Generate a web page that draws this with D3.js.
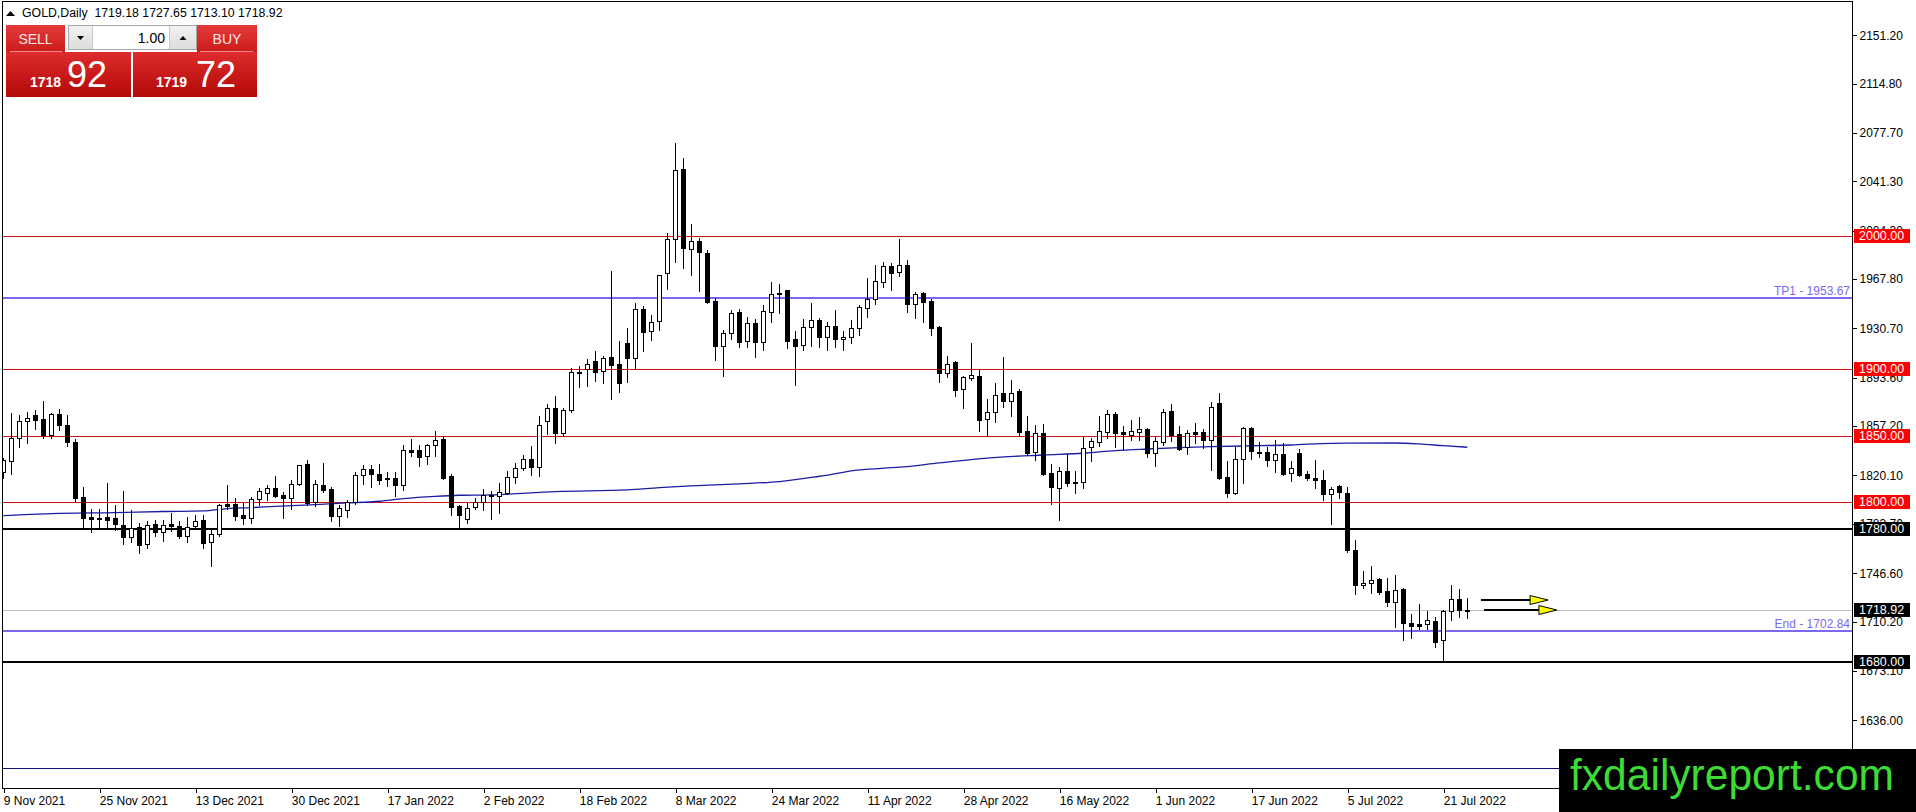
<!DOCTYPE html>
<html>
<head>
<meta charset="utf-8">
<style>
  html, body { margin: 0; padding: 0; background: #fff; }
  svg { display: block; font-family: "Liberation Sans", Arial, sans-serif; }
  .axis text { font-size: 12px; fill: #000; }
  .axis line { stroke: #000; shape-rendering: crispEdges; }
  .axis path { display: none; }
  .wick { stroke: #000; stroke-width: 1; shape-rendering: crispEdges; }
  .body { stroke: #000; stroke-width: 1; shape-rendering: crispEdges; }
  .level { shape-rendering: crispEdges; fill: none; }
</style>
<script src="https://cdn.jsdelivr.net/npm/d3@7/dist/d3.min.js"></script>
</head>
<body>
<svg id="chart" width="1916" height="812"></svg>
<script>
// ---- data ----
const symbol = "GOLD,Daily";
const lastOHLC = [1719.18, 1727.65, 1713.10, 1718.92];
const lotSize = "1.00";
const sellPrice = ["1718", "92"];
const buyPrice = ["1719", "72"];

// one label every 12 daily bars
const dateLabels = ["9 Nov 2021", "25 Nov 2021", "13 Dec 2021", "30 Dec 2021", "17 Jan 2022",
  "2 Feb 2022", "18 Feb 2022", "8 Mar 2022", "24 Mar 2022", "11 Apr 2022", "28 Apr 2022",
  "16 May 2022", "1 Jun 2022", "17 Jun 2022", "5 Jul 2022", "21 Jul 2022"];
const barsPerLabel = 12;

const opens = [1822.6,1830.9,1848.2,1860.9,1865.2,1862.2,1850.6,1866.4,1858.4,1845.2,
  1803.9,1788.9,1788.2,1788.9,1788.2,1783.2,1773.9,1781.4,1768.2,1783.9,
  1777.7,1783.4,1781.9,1774.7,1781.9,1786.4,1770.2,1776.4,1798.9,1798.9,
  1790.2,1788.2,1802.7,1807.2,1810.9,1805.2,1803.4,1813.9,1828.4,1800.2,
  1813.2,1809.7,1789.7,1794.4,1800.2,1820.7,1825.2,1821.4,1818.4,1818.4,
  1812.7,1839.4,1838.9,1834.4,1842.7,1847.2,1819.4,1796.9,1787.7,1796.4,
  1800.2,1805.7,1804.8,1806.8,1819.3,1825.6,1832.4,1826.4,1860.7,1870.8,
  1852.4,1869.0,1897.9,1900.4,1906.4,1898.9,1909.2,1903.9,1919.7,1908.4,
  1945.3,1929.0,1936.0,1972.4,1998.0,2050.7,1990.5,1996.7,1987.5,1951.6,
  1917.7,1927.2,1943.0,1921.1,1934.9,1920.4,1943.0,1957.5,1959.3,1922.4,
  1918.3,1931.7,1936.7,1924.1,1932.2,1922.9,1924.1,1931.2,1946.2,1953.0,
  1965.6,1977.4,1973.1,1978.1,1949.2,1957.3,1951.3,1931.7,1897.2,1905.3,
  1885.2,1893.5,1895.2,1862.3,1867.5,1881.8,1876.3,1883.5,1853.5,1837.5,
  1852.3,1821.8,1810.5,1823.5,1814.3,1815.5,1841.3,1845.0,1853.0,1866.3,
  1852.8,1850.5,1852.5,1855.0,1836.8,1845.5,1868.5,1851.0,1841.3,1852.8,
  1853.0,1846.8,1874.8,1819.3,1806.8,1832.5,1855.8,1838.0,1838.0,1831.8,
  1836.3,1822.0,1837.0,1821.3,1818.3,1817.0,1806.3,1811.8,1807.0,1764.3,
  1738.0,1739.5,1742.0,1733.0,1725.0,1734.5,1708.8,1708.0,1708.0,1710.5,
  1696.3,1718.0,1727.5,1719.18];
const highs = [1833.0,1866.9,1865.2,1868.1,1869.6,1876.4,1866.9,1870.1,1865.2,1847.7,
  1811.4,1795.2,1794.7,1814.7,1798.2,1808.2,1793.9,1784.4,1785.7,1786.9,
  1786.4,1792.2,1785.7,1788.9,1790.7,1790.2,1778.9,1798.9,1813.2,1803.4,
  1799.4,1803.9,1810.7,1813.2,1819.4,1807.7,1816.4,1827.7,1831.4,1816.4,
  1829.4,1811.4,1798.2,1801.4,1822.7,1827.7,1827.7,1828.4,1822.7,1822.7,
  1842.7,1847.2,1842.7,1843.9,1853.2,1849.7,1821.4,1797.7,1799.4,1803.4,
  1810.2,1808.2,1814.3,1823.1,1829.4,1835.6,1841.9,1865.0,1874.0,1879.5,
  1870.8,1900.9,1902.6,1907.7,1913.9,1909.7,1974.2,1921.5,1931.0,1949.8,
  1947.8,1940.5,1970.6,2002.5,2070.3,2059.0,2009.3,1998.7,1990.0,1953.6,
  1929.2,1944.8,1945.5,1939.2,1937.9,1948.0,1965.6,1964.3,1959.8,1929.1,
  1937.9,1949.7,1938.4,1935.4,1944.2,1928.6,1937.4,1948.0,1968.8,1978.1,
  1980.7,1979.9,1997.7,1981.9,1958.0,1958.0,1953.0,1932.9,1910.3,1906.5,
  1895.2,1919.6,1899.5,1877.3,1889.3,1909.0,1891.8,1885.5,1864.8,1858.0,
  1858.8,1828.5,1826.3,1836.0,1823.5,1848.8,1848.5,1864.8,1869.3,1867.5,
  1857.3,1861.8,1863.8,1855.5,1848.8,1869.8,1873.8,1857.5,1854.3,1859.8,
  1855.0,1875.5,1881.8,1830.8,1841.3,1856.8,1856.8,1845.0,1841.8,1846.8,
  1844.5,1831.3,1840.0,1823.8,1832.0,1824.5,1811.3,1813.0,1811.3,1771.8,
  1748.0,1751.8,1743.3,1743.3,1745.0,1735.5,1715.8,1723.3,1718.0,1713.8,
  1718.8,1738.0,1735.0,1727.65];
const lows = [1818.4,1821.4,1841.4,1844.4,1855.2,1848.2,1848.2,1854.4,1842.2,1800.7,
  1780.7,1777.7,1780.9,1780.7,1778.9,1768.4,1770.2,1761.4,1765.2,1774.7,
  1770.9,1778.4,1772.7,1769.7,1780.2,1765.9,1752.2,1774.7,1794.7,1786.9,
  1783.9,1784.4,1798.2,1801.4,1803.9,1788.2,1795.2,1812.7,1797.7,1797.2,
  1807.7,1785.7,1781.9,1788.9,1798.9,1813.4,1811.4,1813.4,1812.2,1804.7,
  1808.9,1834.4,1826.9,1828.4,1834.4,1817.7,1790.2,1780.2,1784.4,1795.2,
  1793.9,1787.7,1791.7,1806.3,1814.8,1824.3,1820.6,1819.8,1851.4,1844.4,
  1849.9,1867.5,1886.6,1887.1,1890.8,1889.6,1877.5,1882.6,1890.1,1900.4,
  1913.4,1921.7,1929.2,1960.6,1980.4,1976.2,1970.6,1958.6,1949.8,1906.6,
  1894.6,1923.0,1917.0,1917.1,1909.5,1914.1,1935.9,1942.2,1915.8,1888.4,
  1914.8,1917.8,1916.6,1914.1,1916.6,1914.1,1919.6,1926.1,1939.2,1949.2,
  1961.8,1959.3,1969.8,1943.0,1938.4,1935.4,1925.4,1890.2,1894.5,1880.2,
  1870.6,1892.0,1853.3,1849.8,1860.5,1871.8,1864.8,1850.5,1835.5,1831.8,
  1820.5,1798.5,1786.3,1812.3,1806.8,1810.5,1831.0,1842.5,1848.5,1841.8,
  1839.8,1846.8,1846.8,1833.8,1827.3,1843.0,1846.3,1839.3,1836.0,1844.3,
  1841.0,1824.3,1817.3,1803.8,1805.8,1814.3,1832.5,1833.8,1827.0,1822.5,
  1820.8,1815.8,1819.5,1817.0,1810.5,1801.3,1783.3,1803.3,1762.5,1731.3,
  1735.8,1731.8,1730.8,1721.8,1706.3,1696.3,1698.0,1704.3,1704.3,1691.3,
  1680.0,1711.3,1713.3,1713.10];
const closes = [1831.4,1848.2,1860.9,1863.4,1861.9,1850.6,1866.4,1858.2,1845.2,1803.2,
  1788.2,1787.7,1787.9,1786.9,1783.9,1773.9,1780.9,1767.7,1782.7,1777.7,
  1783.2,1782.2,1774.7,1781.4,1785.7,1769.4,1775.9,1798.2,1796.9,1789.7,
  1788.2,1802.7,1808.2,1810.9,1804.4,1803.4,1813.9,1827.7,1799.7,1813.9,
  1809.4,1789.7,1795.9,1800.2,1820.7,1825.2,1821.4,1816.4,1817.4,1812.7,
  1839.4,1837.7,1833.9,1842.7,1846.9,1818.2,1796.4,1790.7,1795.9,1800.4,
  1805.7,1804.4,1807.5,1819.3,1825.6,1832.4,1826.4,1858.2,1870.8,1852.4,
  1869.0,1897.6,1898.1,1903.9,1897.9,1908.4,1902.9,1889.6,1908.4,1945.3,
  1928.0,1935.5,1970.6,1998.0,2049.7,1991.2,1996.2,1988.0,1950.3,1917.2,
  1927.2,1942.3,1920.8,1934.9,1920.4,1943.5,1956.8,1956.8,1921.6,1917.8,
  1931.7,1936.7,1924.1,1932.2,1922.9,1924.6,1931.2,1946.7,1953.0,1966.1,
  1977.4,1972.4,1978.1,1949.2,1956.8,1950.5,1931.2,1897.0,1904.0,1884.7,
  1894.0,1896.0,1861.5,1867.5,1880.5,1876.3,1882.5,1853.0,1837.3,1851.8,
  1821.0,1811.3,1823.5,1814.3,1815.5,1841.0,1846.0,1853.5,1866.3,1852.3,
  1851.0,1853.5,1854.8,1836.8,1846.0,1868.0,1850.5,1839.8,1851.8,1851.3,
  1846.8,1871.8,1818.0,1807.0,1832.5,1855.8,1838.3,1836.8,1831.8,1836.3,
  1821.3,1825.5,1820.8,1818.0,1816.8,1806.3,1810.0,1807.5,1763.8,1738.0,
  1739.5,1741.3,1732.5,1725.0,1734.3,1708.8,1707.0,1706.8,1711.3,1695.0,
  1718.0,1726.8,1718.8,1718.92];

// moving average, read at a number of bars
const maBars = [0, 6, 14, 20, 25, 28, 31, 34, 39, 43, 47, 50, 54, 57, 61, 69, 78, 82, 86, 92,
  97, 102, 107, 112, 117, 123, 130, 135, 139, 143, 147, 151, 157, 161, 166, 174, 177, 180, 183];
const maValues = [1789.9, 1791.4, 1792.2, 1793.0, 1793.4, 1795.2, 1795.9, 1796.9, 1798.2, 1799.4,
  1800.7, 1802.7, 1804.4, 1805.2, 1805.5, 1808.0, 1809.3, 1811.0, 1812.3, 1813.8,
  1815.5, 1819.5, 1824.3, 1826.3, 1829.5, 1833.2, 1835.5, 1836.8, 1838.8, 1840.0,
  1841.0, 1841.8, 1842.5, 1843.0, 1844.3, 1844.5, 1843.8, 1842.5, 1841.3];

const priceTicks = [2151.20, 2114.80, 2077.70, 2041.30, 2004.30, 1967.80, 1930.70, 1893.60,
  1857.20, 1820.10, 1783.70, 1746.60, 1710.20, 1673.10, 1636.00];

const redLevels = [2000, 1900, 1850, 1800];
const blackLevels = [1780, 1680];
const targetNames = ["TP1", "End"];
const targetValues = [1953.67, 1702.84];
const bidPrice = 1718.92;
const baseLevel = 1600;

// the two drawn arrows (bar from / to, price)
const arrowFromBars = [184.7, 185.1];
const arrowToBars = [193.1, 194.2];
const arrowPrices = [1726.4, 1718.92];

// ---- layout ----
const plotLeft = 2, plotTop = 2, plotRight = 1852, plotBottom = 788;
const svg = d3.select("#chart");

const x = d3.scaleLinear().domain([0, 1]).range([3.3, 11.3]);
const y = d3.scaleLinear().domain([1680, 2000]).range([661.7, 236.3]);
const py = v => Math.round(y(v)) + 0.5;
const px = i => Math.round(x(i));

const defs = svg.append("defs");
defs.append("clipPath").attr("id", "plot")
  .append("rect").attr("x", plotLeft + 1).attr("y", plotTop + 1)
  .attr("width", plotRight - plotLeft - 1).attr("height", plotBottom - plotTop - 1);

function grad(id, c1, c2) {
  const g = defs.append("linearGradient").attr("id", id)
    .attr("x1", 0).attr("y1", 0).attr("x2", 0).attr("y2", 1);
  g.append("stop").attr("offset", "0%").attr("stop-color", c1);
  g.append("stop").attr("offset", "100%").attr("stop-color", c2);
}
grad("btnTop", "#e43a3a", "#cc1c1c");
grad("btnBig", "#de2c2c", "#b30808");
grad("spin", "#f2f2f2", "#dcdcdc");

const plot = svg.append("g").attr("clip-path", "url(#plot)");

// horizontal levels
plot.append("line").attr("class", "level")
  .attr("x1", plotLeft).attr("x2", plotRight).attr("y1", py(baseLevel)).attr("y2", py(baseLevel))
  .attr("stroke", "#10107a").attr("stroke-width", 1);

plot.selectAll(".red").data(redLevels).enter().append("line")
  .attr("class", "level red")
  .attr("x1", plotLeft).attr("x2", plotRight)
  .attr("y1", d => py(d)).attr("y2", d => py(d))
  .attr("stroke", "#cc1414").attr("stroke-width", 1);

plot.selectAll(".blk").data(blackLevels).enter().append("line")
  .attr("class", "level blk")
  .attr("x1", plotLeft).attr("x2", plotRight)
  .attr("y1", d => Math.round(y(d))).attr("y2", d => Math.round(y(d)))
  .attr("stroke", "#000").attr("stroke-width", 2);

plot.selectAll(".tgt").data(targetValues).enter().append("line")
  .attr("class", "level tgt")
  .attr("x1", plotLeft).attr("x2", plotRight)
  .attr("y1", d => Math.round(y(d))).attr("y2", d => Math.round(y(d)))
  .attr("stroke", "#7b68ee").attr("stroke-width", 2);

plot.append("line").attr("class", "level")
  .attr("x1", plotLeft).attr("x2", plotRight).attr("y1", py(bidPrice)).attr("y2", py(bidPrice))
  .attr("stroke", "#c0c0c0").attr("stroke-width", 1);

// moving average
const maLine = d3.line().x((d, i) => x(maBars[i])).y(d => y(d)).curve(d3.curveMonotoneX);
plot.append("path").datum(maValues)
  .attr("d", maLine)
  .attr("fill", "none").attr("stroke", "#1c1ca4").attr("stroke-width", 1.3);

// candles
const bars = d3.range(opens.length);
const candle = plot.selectAll(".candle").data(bars).enter().append("g").attr("class", "candle");
candle.append("line").attr("class", "wick")
  .attr("x1", i => px(i) + 0.5).attr("x2", i => px(i) + 0.5)
  .attr("y1", i => Math.round(y(highs[i]))).attr("y2", i => Math.round(y(lows[i])) + 1);
candle.append("rect").attr("class", "body")
  .attr("x", i => px(i) - 1.5)
  .attr("width", 4)
  .attr("y", i => Math.round(y(Math.max(opens[i], closes[i]))) + 0.5)
  .attr("height", i => Math.max(1, Math.round(y(Math.min(opens[i], closes[i]))) - Math.round(y(Math.max(opens[i], closes[i])))))
  .attr("fill", i => closes[i] >= opens[i] ? "#fff" : "#000");

// target labels above their lines
plot.selectAll(".tgtLabel").data(targetValues).enter().append("text")
  .attr("x", plotRight - 2).attr("y", d => Math.round(y(d)) - 3)
  .attr("text-anchor", "end")
  .attr("font-size", 12).attr("fill", "#7b68ee")
  .text((d, i) => targetNames[i] + " - " + d.toFixed(2));

// arrows
const arrows = plot.selectAll(".arrow").data(arrowPrices).enter().append("g").attr("class", "arrow");
arrows.append("line")
  .attr("x1", (d, i) => x(arrowFromBars[i])).attr("x2", (d, i) => x(arrowToBars[i]) - 16)
  .attr("y1", d => Math.round(y(d))).attr("y2", d => Math.round(y(d)))
  .attr("stroke", "#000").attr("stroke-width", 2);
arrows.append("path")
  .attr("d", (d, i) => {
    const tx = x(arrowToBars[i]), ty = Math.round(y(d));
    return `M${tx},${ty} L${tx - 18},${ty - 4.5} L${tx - 18},${ty + 4.5} Z`;
  })
  .attr("fill", "#ffff00").attr("stroke", "#000").attr("stroke-width", 1);

// frame
svg.append("rect").attr("x", plotLeft + 0.5).attr("y", plotTop - 0.5)
  .attr("width", plotRight - plotLeft).attr("height", plotBottom - plotTop + 0.5)
  .attr("fill", "none").attr("stroke", "#000").attr("stroke-width", 1)
  .attr("shape-rendering", "crispEdges");

// price axis
svg.append("g").attr("class", "axis")
  .attr("transform", `translate(${plotRight + 0.5},0)`)
  .call(d3.axisRight(y).tickValues(priceTicks).tickFormat(d3.format(".2f")).tickSize(4).tickPadding(3));

// date axis
svg.append("g").attr("class", "axis")
  .attr("transform", `translate(0,${plotBottom})`)
  .call(d3.axisBottom(x).tickValues(dateLabels.map((d, i) => i * barsPerLabel))
    .tickFormat((d, i) => dateLabels[i]).tickSize(5).tickPadding(3))
  .call(g => g.selectAll(".tick line").attr("transform", "translate(0.5,0)"))
  .call(g => g.selectAll("text").attr("text-anchor", "start").attr("x", 0));

// price tags on the axis
function tag(value, fill) {
  const cy = Math.round(y(value));
  svg.append("rect").attr("x", plotRight + 2).attr("y", cy - 7)
    .attr("width", 56).attr("height", 14).attr("fill", fill);
  svg.append("text").attr("x", plotRight + 7).attr("y", cy).attr("dy", "0.35em")
    .attr("font-size", 12.5).attr("fill", "#fff").text(value.toFixed(2));
}
redLevels.forEach(v => tag(v, "#ff0000"));
blackLevels.forEach(v => tag(v, "#000"));
tag(bidPrice, "#000");

// header
const head = svg.append("g");
head.append("path").attr("d", "M6,16 L10.5,11 L15,16 Z").attr("fill", "#000");
head.append("text").attr("x", 22).attr("y", 17).attr("font-size", 12.3)
  .attr("xml:space", "preserve")
  .text(symbol + "  " + lastOHLC.map(d => d.toFixed(2)).join(" "));

// one click trading panel
const panel = svg.append("g");
panel.append("rect").attr("x", 6).attr("y", 25).attr("width", 59).attr("height", 27).attr("fill", "url(#btnTop)");
panel.append("rect").attr("x", 197).attr("y", 25).attr("width", 60).attr("height", 27).attr("fill", "url(#btnTop)");
panel.append("line").attr("x1", 10).attr("x2", 62).attr("y1", 51.5).attr("y2", 51.5).attr("stroke", "#f08a8a");
panel.append("line").attr("x1", 200).attr("x2", 253).attr("y1", 51.5).attr("y2", 51.5).attr("stroke", "#f08a8a");
panel.append("rect").attr("x", 6).attr("y", 52).attr("width", 125).attr("height", 45).attr("fill", "url(#btnBig)");
panel.append("rect").attr("x", 133).attr("y", 52).attr("width", 124).attr("height", 45).attr("fill", "url(#btnBig)");
panel.append("rect").attr("x", 68.5).attr("y", 25.5).attr("width", 128).attr("height", 24)
  .attr("fill", "#fff").attr("stroke", "#a8a8a8");
panel.append("rect").attr("x", 69).attr("y", 26).attr("width", 23).attr("height", 23).attr("fill", "url(#spin)");
panel.append("rect").attr("x", 170).attr("y", 26).attr("width", 26).attr("height", 23).attr("fill", "url(#spin)");
panel.append("line").attr("x1", 92.5).attr("x2", 92.5).attr("y1", 26).attr("y2", 49).attr("stroke", "#c8c8c8");
panel.append("line").attr("x1", 169.5).attr("x2", 169.5).attr("y1", 26).attr("y2", 49).attr("stroke", "#c8c8c8");
panel.append("path").attr("d", "M77,36 L84,36 L80.5,40 Z").attr("fill", "#000");
panel.append("path").attr("d", "M179.5,40 L186.5,40 L183,36 Z").attr("fill", "#000");
panel.append("text").attr("x", 165).attr("y", 43).attr("text-anchor", "end")
  .attr("font-size", 14).attr("fill", "#000").text(lotSize);
panel.append("text").attr("x", 35.5).attr("y", 44).attr("text-anchor", "middle")
  .attr("font-size", 14).attr("fill", "#ffe6e6").text("SELL");
panel.append("text").attr("x", 227).attr("y", 44).attr("text-anchor", "middle")
  .attr("font-size", 14).attr("fill", "#ffe6e6").text("BUY");
panel.append("text").attr("x", 30).attr("y", 87).attr("font-size", 14).attr("font-weight", "bold")
  .attr("fill", "#fff").text(sellPrice[0]);
panel.append("text").attr("x", 67).attr("y", 87).attr("font-size", 36)
  .attr("fill", "#fff").text(sellPrice[1]);
panel.append("text").attr("x", 156).attr("y", 87).attr("font-size", 14).attr("font-weight", "bold")
  .attr("fill", "#fff").text(buyPrice[0]);
panel.append("text").attr("x", 196).attr("y", 87).attr("font-size", 36)
  .attr("fill", "#fff").text(buyPrice[1]);

// watermark
svg.append("rect").attr("x", 1559).attr("y", 749).attr("width", 357).attr("height", 63).attr("fill", "#000");
svg.append("text").attr("x", 1570).attr("y", 790).attr("font-size", 44)
  .attr("textLength", 324).attr("lengthAdjust", "spacingAndGlyphs")
  .attr("fill", "#3cdc34").text("fxdailyreport.com");
</script>
</body>
</html>
